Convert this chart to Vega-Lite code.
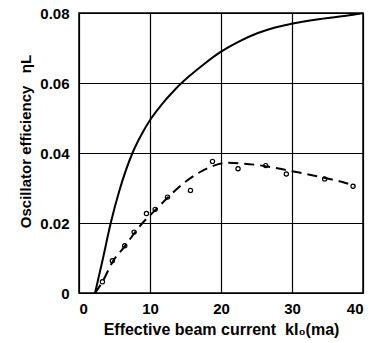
{
  "$schema": "https://vega.github.io/schema/vega-lite/v6.json",
  "width": 284,
  "height": 280,
  "autosize": "none",
  "padding": {"left": 79, "top": 13, "right": 8, "bottom": 50},
  "background": "white",
  "config": {
    "view": {"stroke": "black", "strokeWidth": 1.5},
    "font": "Liberation Sans",
    "axis": {
      "domain": false,
      "ticks": false,
      "grid": true,
      "gridColor": "black",
      "gridOpacity": 1,
      "gridWidth": 1.2,
      "labelFont": "Liberation Sans",
      "labelFontSize": 15,
      "labelFontWeight": "bold",
      "labelColor": "black",
      "titleFont": "Liberation Sans",
      "titleFontSize": 16,
      "titleFontWeight": "bold",
      "titleColor": "black"
    }
  },
  "datasets": {
    "solid": [
      {"x": 2.26, "y": 0}, {"x": 3.3, "y": 0.0092}, {"x": 4.47, "y": 0.02}, {"x": 5.65, "y": 0.029},
      {"x": 7.53, "y": 0.04}, {"x": 8.94, "y": 0.0458}, {"x": 10.1, "y": 0.0497}, {"x": 11.5, "y": 0.0535},
      {"x": 13.6, "y": 0.0583}, {"x": 15.5, "y": 0.0619}, {"x": 17.55, "y": 0.0653}, {"x": 19.9, "y": 0.0688},
      {"x": 22.3, "y": 0.0716}, {"x": 25.1, "y": 0.0742}, {"x": 27.5, "y": 0.0758}, {"x": 29.9, "y": 0.0769},
      {"x": 34, "y": 0.0783}, {"x": 38.3, "y": 0.0794}, {"x": 40, "y": 0.08}
    ],
    "dashed": [
      {"x": 2.26, "y": 0}, {"x": 3.3, "y": 0.0032}, {"x": 4.7, "y": 0.0088}, {"x": 6.44, "y": 0.0133},
      {"x": 7.76, "y": 0.017}, {"x": 8.94, "y": 0.02}, {"x": 10, "y": 0.0222}, {"x": 11, "y": 0.0242},
      {"x": 12.47, "y": 0.0272}, {"x": 15, "y": 0.0318}, {"x": 17, "y": 0.0345}, {"x": 19, "y": 0.0364},
      {"x": 21, "y": 0.0372}, {"x": 23, "y": 0.037}, {"x": 25, "y": 0.0366}, {"x": 27, "y": 0.036},
      {"x": 29, "y": 0.0352}, {"x": 31, "y": 0.0344}, {"x": 33, "y": 0.0336}, {"x": 35, "y": 0.0327},
      {"x": 37, "y": 0.0318}, {"x": 38.8, "y": 0.0306}
    ],
    "points": [
      {"x": 3.3, "y": 0.0032}, {"x": 4.7, "y": 0.0092}, {"x": 6.44, "y": 0.0135}, {"x": 7.76, "y": 0.0174},
      {"x": 9.5, "y": 0.0227}, {"x": 10.73, "y": 0.0239}, {"x": 12.47, "y": 0.0274}, {"x": 15.7, "y": 0.0293},
      {"x": 18.8, "y": 0.0376}, {"x": 22.4, "y": 0.0355}, {"x": 26.3, "y": 0.0364}, {"x": 29.2, "y": 0.034},
      {"x": 34.6, "y": 0.0326}, {"x": 38.6, "y": 0.0305}
    ]
  },
  "encoding": {
    "x": {
      "field": "x", "type": "quantitative",
      "scale": {"domain": [0, 40], "nice": false},
      "axis": {"values": [0, 10, 20, 30, 40], "labelPadding": 8, "title": "Effective beam current\u00a0\u00a0kI₀(ma)", "titlePadding": 5}
    },
    "y": {
      "field": "y", "type": "quantitative",
      "scale": {"domain": [0, 0.08], "nice": false},
      "axis": {"values": [0, 0.02, 0.04, 0.06, 0.08], "labelPadding": 10,
        "labelExpr": "datum.value == 0 ? '0' : format(datum.value, '.2f')",
        "title": "Oscillator efficiency\u00a0\u00a0\u00a0ηL", "titlePadding": 6, "titleFontSize": 15, "titleY": 128}
    }
  },
  "layer": [
    {
      "data": {"name": "solid"},
      "mark": {"type": "line", "color": "black", "strokeWidth": 2, "interpolate": "monotone", "clip": true}
    },
    {
      "data": {"name": "dashed"},
      "mark": {"type": "line", "color": "black", "strokeWidth": 2, "strokeDash": [10, 6], "interpolate": "monotone", "clip": true}
    },
    {
      "data": {"name": "points"},
      "mark": {"type": "point", "shape": "circle", "filled": false, "color": "black", "size": 18, "strokeWidth": 1.2, "opacity": 1}
    }
  ]
}
